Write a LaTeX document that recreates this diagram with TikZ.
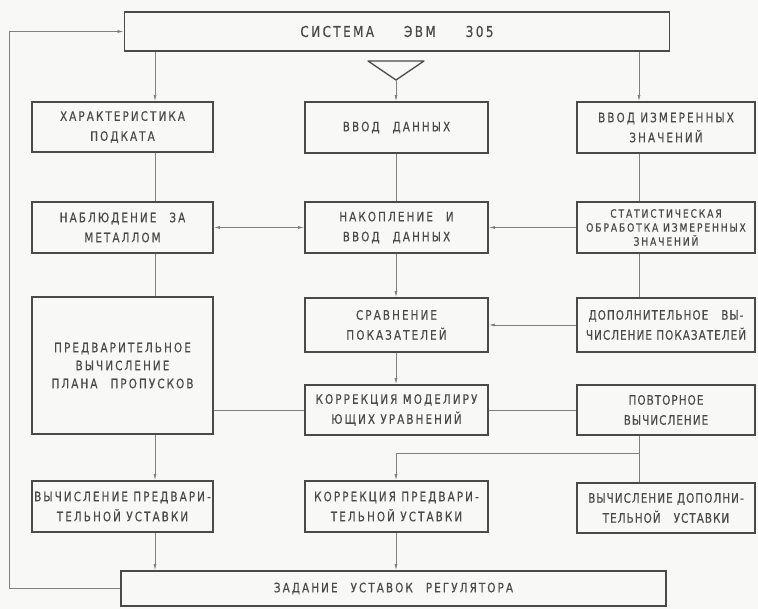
\documentclass[tikz,border=0pt]{standalone}
\usepackage{fontspec}
\newfontfamily\lbl[FakeStretch=0.8,LetterSpace=16,FakeBold=0.4]{DejaVu Sans}
\newfontfamily\lbln[FakeStretch=0.8,LetterSpace=8,FakeBold=0.4]{DejaVu Sans}
\usetikzlibrary{arrows.meta}

\definecolor{ink}{HTML}{4A4A4A}
\definecolor{wire}{HTML}{808080}
\definecolor{paper}{HTML}{F8F8F6}

\begin{document}
\begin{tikzpicture}[x=1pt,y=-1pt,
    box/.style={draw=ink,line width=1.8pt,inner sep=0pt,align=center,text=ink,
        font=\lbl\fontsize{13}{20}\selectfont},
    tight/.style={font=\lbln\fontsize{13}{20}\selectfont},
    col1/.style={box,minimum width=181pt,minimum height=51pt},
    col2/.style={box,minimum width=183pt,minimum height=51pt},
    col3/.style={box,minimum width=178pt,minimum height=51pt},
    wide/.style={box,minimum width=545pt},
    wire/.style={draw=wire,line width=0.7pt},
    arr/.style={wire,-{Latex[length=6pt,width=3pt]}},
    dbl/.style={wire,{Latex[length=6pt,width=3pt]}-{Latex[length=6pt,width=3pt]}}]
\fill[paper] (0,0) rectangle (758,609);
\useasboundingbox (0,0) rectangle (758,609);

% columns for the vertical connectors
\coordinate (lx) at (155,0);
\coordinate (mx) at (396,0);
\coordinate (rx) at (639,0);
\coordinate (loop) at (9,0);

\node[wide,minimum height=39pt,font=\lbl\fontsize{15}{17}\selectfont] (sys) at (397,31.5) {СИСТЕМА\qquad ЭВМ\qquad 305};
\coordinate (tri) at (396,80);
\draw[ink,line width=1.3pt,line join=round] (368,61) -- (424,61) -- (tri) -- cycle;

% row 1
\node[col1,minimum height=50pt] (char) at (122.5,127) {ХАРАКТЕРИСТИКА\\ПОДКАТА};
\node[col2] (input) at (396.5,127.5) {ВВОД\quad ДАННЫХ};
\node[col3] (measin) at (666,127.5) {ВВОД ИЗМЕРЕННЫХ\\ЗНАЧЕНИЙ};

% row 2
\node[col1] (watch) at (122.5,227.5) {НАБЛЮДЕНИЕ\quad ЗА\\МЕТАЛЛОМ};
\node[col2] (accum) at (396.5,227.5) {НАКОПЛЕНИЕ\quad И\\ВВОД\quad ДАННЫХ};
\node[col3,font=\lbl\fontsize{11.5}{14}\selectfont] (stat) at (666,227.5) {СТАТИСТИЧЕСКАЯ\\ОБРАБОТКА ИЗМЕРЕННЫХ\\ЗНАЧЕНИЙ};

% row 3
\node[col1,minimum height=137pt,font=\lbl\fontsize{13}{18}\selectfont] (plan) at (122.5,365.5) {ПРЕДВАРИТЕЛЬНОЕ\\ВЫЧИСЛЕНИЕ\\ПЛАНА\quad ПРОПУСКОВ};
\node[col2,minimum height=54pt] (compare) at (396.5,325) {СРАВНЕНИЕ\\ПОКАЗАТЕЛЕЙ};
\node[col3,tight,minimum height=54pt] (extra) at (666,325) {ДОПОЛНИТЕЛЬНОЕ\quad ВЫ-\\ЧИСЛЕНИЕ ПОКАЗАТЕЛЕЙ};

% row 4
\node[col2,minimum height=50pt] (model) at (396.5,410) {КОРРЕКЦИЯ МОДЕЛИРУ\\ЮЩИХ УРАВНЕНИЙ};
\node[col3,tight,minimum height=50pt] (repeat) at (666,410) {ПОВТОРНОЕ\\ВЫЧИСЛЕНИЕ};

% row 5
\node[col1] (preset) at (122.5,506.5) {ВЫЧИСЛЕНИЕ ПРЕДВАРИ-\\ТЕЛЬНОЙ УСТАВКИ};
\node[col2] (fix) at (396.5,506.5) {КОРРЕКЦИЯ ПРЕДВАРИ-\\ТЕЛЬНОЙ УСТАВКИ};
\node[col3,tight,minimum height=50pt] (addset) at (666,508) {ВЫЧИСЛЕНИЕ ДОПОЛНИ-\\ТЕЛЬНОЙ\quad УСТАВКИ};

\node[wide,minimum height=35pt] (task) at (393.5,588.5) {ЗАДАНИЕ\quad УСТАВОК\quad РЕГУЛЯТОРА};

% connectors
\draw[arr] (sys.south -| lx) -- (char.north -| lx);
\draw[arr] (tri) -- (input.north -| tri);
\draw[arr] (sys.south -| rx) -- (measin.north -| rx);
\draw[wire] (char.south -| lx) -- (watch.north -| lx);
\draw[wire] (input.south -| mx) -- (accum.north -| mx);
\draw[wire] (measin.south -| rx) -- (stat.north -| rx);
\draw[dbl] (watch.east) -- (accum.west);
\draw[arr] (stat.west) -- (accum.east);
\draw[wire] (watch.south -| lx) -- (plan.north -| lx);
\draw[arr] (accum.south -| mx) -- (compare.north -| mx);
\draw[wire] (stat.south -| rx) -- (extra.north -| rx);
\draw[arr] (extra.west) -- (compare.east);
\draw[arr] (compare.south -| mx) -- (model.north -| mx);
\draw[wire] (plan.east |- model.west) -- (model.west);
\draw[wire] (model.east) -- (repeat.west);
\draw[arr] (plan.south -| lx) -- (preset.north -| lx);
\draw[wire] (repeat.south -| rx) -- (addset.north -| rx);
\coordinate (split) at (639,453);
\draw[arr] (split) -| (fix.north -| mx);
\draw[arr] (preset.south -| lx) -- (task.north -| lx);
\draw[arr] (fix.south -| mx) -- (task.north -| mx);
\draw[arr] (task.west) -- (task.west -| loop) -- (sys.west -| loop) -- (sys.west);
\end{tikzpicture}
\end{document}
